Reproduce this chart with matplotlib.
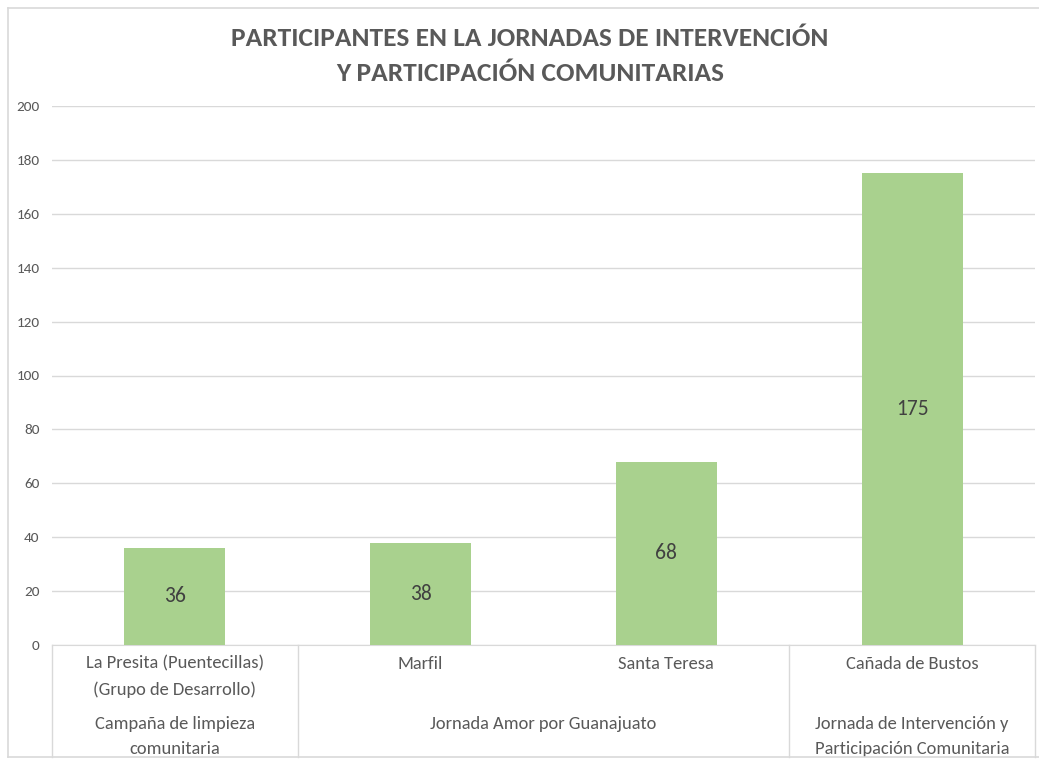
import matplotlib
matplotlib.use('Agg')
import matplotlib.pyplot as plt
import matplotlib.transforms as mtransforms
from matplotlib import font_manager

# -----------------------------------------------------------------------------------------------------------
# Participants per community event, bar chart with a two level category axis
# -----------------------------------------------------------------------------------------------------------

places = ['La Presita (Puentecillas)\n(Grupo de Desarrollo)', 'Marfil', 'Santa Teresa', 'Cañada de Bustos']
participants = [36, 38, 68, 175]
groups = ['Campaña de limpieza\ncomunitaria', 'Jornada Amor por Guanajuato',
          'Jornada de Intervención y\nParticipación Comunitaria']
group_sizes = [1, 2, 1]
y_ticks = [0, 20, 40, 60, 80, 100, 120, 140, 160, 180, 200]
title = 'PARTICIPANTES EN LA JORNADAS DE INTERVENCIÓN\nY PARTICIPACIÓN COMUNITARIAS'

installed = {f.name for f in font_manager.fontManager.ttflist}
narrow = next((f for f in ['Carlito', 'Liberation Sans Narrow', 'Open Sans'] if f in installed), 'DejaVu Sans')
body = next((f for f in ['Carlito', 'Open Sans', 'Liberation Sans'] if f in installed), 'DejaVu Sans')
plt.rcParams['font.family'] = [body, 'DejaVu Sans']

grid_color = '#D9D9D9'
text_color = '#595959'

fig = plt.figure(figsize=(10.39, 7.64), dpi=100)
ax = fig.add_axes([52 / 1039, 1 - 645 / 764, (1035 - 52) / 1039, (645 - 106) / 764])

x = list(range(len(places)))
bars = ax.bar(x, participants, width=0.41, color='#A9D18E', zorder=3)
for b, v in zip(bars, participants):
    ax.text(b.get_x() + b.get_width() / 2, v / 2, str(v), ha='center', va='center',
            fontsize=15.5, color='#404040', zorder=4)

ax.set_xlim(-0.5, len(places) - 0.5)
ax.set_ylim(0, 200)
ax.set_yticks(y_ticks)
ax.set_yticklabels([str(t) for t in y_ticks], fontsize=11, color=text_color)
ax.tick_params(axis='y', length=0, pad=9)
ax.set_xticks([])
ax.grid(axis='y', color=grid_color, linewidth=1, zorder=0)
for s in ['top', 'right', 'left']:
    ax.spines[s].set_visible(False)
ax.spines['bottom'].set_color(grid_color)

# two level category axis
trans = mtransforms.blended_transform_factory(ax.transData, ax.transAxes)
for i, name in enumerate(places):
    ax.text(i, -0.02, name, transform=trans, ha='center', va='top', fontsize=13.3,
            color=text_color, linespacing=1.7)

start = -0.5
edges = [start]
for g, n in zip(groups, group_sizes):
    ax.text(start + n / 2, -0.132, g, transform=trans, ha='center', va='top', fontsize=13.3,
            color=text_color, linespacing=1.7)
    start += n
    edges.append(start)
for e in edges:
    ax.plot([e, e], [0, -0.208], transform=trans, color=grid_color, linewidth=1, clip_on=False)

# chart frame
fig.add_artist(plt.Line2D([8 / 1039, 8 / 1039], [1 - 8 / 764, 1 - 757 / 764], color=grid_color, linewidth=1.2))
fig.add_artist(plt.Line2D([8 / 1039, 1], [1 - 8 / 764, 1 - 8 / 764], color=grid_color, linewidth=1.2))
fig.add_artist(plt.Line2D([8 / 1039, 1], [1 - 757 / 764, 1 - 757 / 764], color=grid_color, linewidth=1.2))

fig.text(530 / 1039, 1 - 56 / 764, title, ha='center', va='center', fontsize=19.7, fontweight='bold',
         color=text_color, family=[narrow, 'DejaVu Sans'], linespacing=1.65)

fig.savefig('out.png', dpi=100)
